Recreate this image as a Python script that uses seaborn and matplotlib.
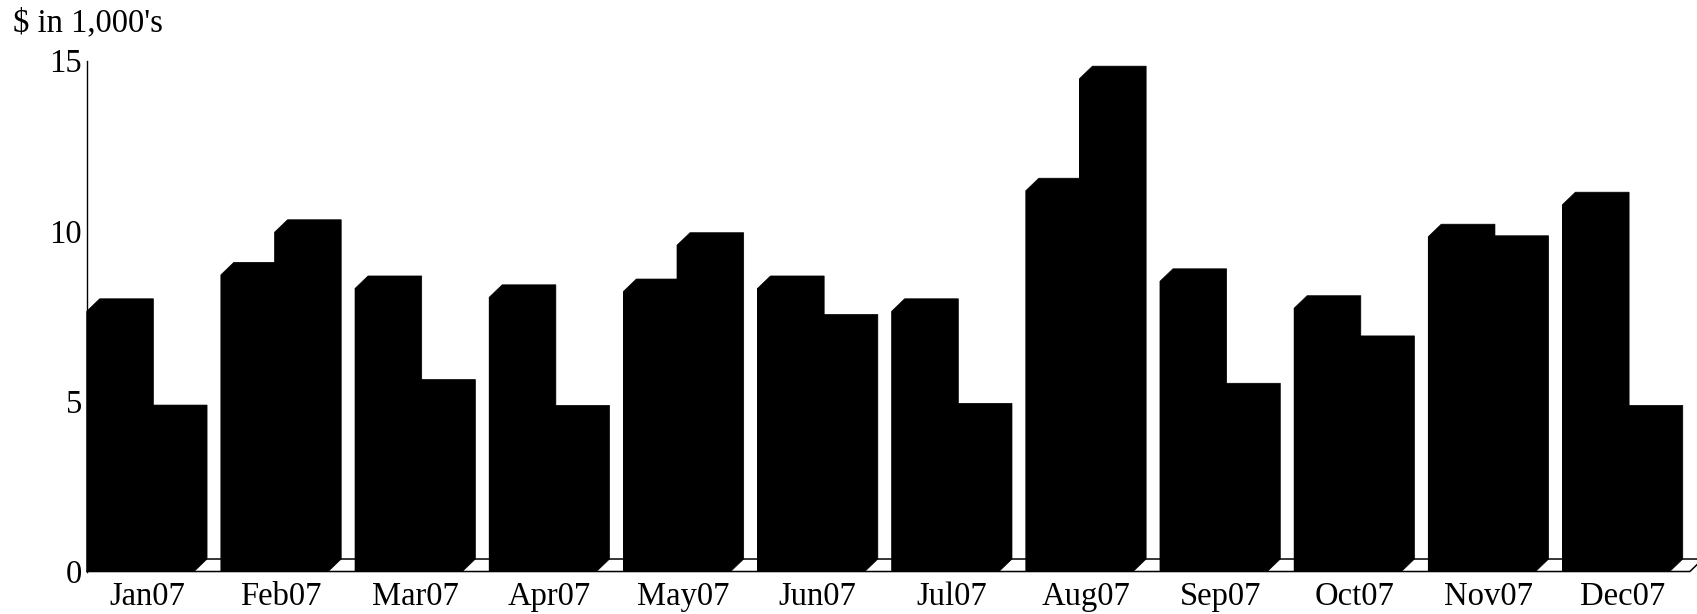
import numpy as np
import pandas as pd
import matplotlib
matplotlib.use("Agg")
import matplotlib.pyplot as plt
import seaborn as sns
from matplotlib.patches import Polygon

# ---- data (values in $1,000's, front-face heights) ----
months = ["Jan07", "Feb07", "Mar07", "Apr07", "May07", "Jun07",
          "Jul07", "Aug07", "Sep07", "Oct07", "Nov07", "Dec07"]
series_a = [7.64, 8.71, 8.31, 8.05, 8.22, 8.31, 7.64, 11.18, 8.52, 7.73, 9.83, 10.77]
series_b = [4.52, 9.96, 5.27, 4.51, 9.58, 7.18, 4.57, 14.47, 5.16, 6.55, 9.49, 4.51]
y_ticks = [0, 5, 10, 15]
y_title = "$ in 1,000's"

# ---- style ----
sns.set_theme(style="white")
plt.rcParams["font.family"] = ["Liberation Serif", "DejaVu Serif"]
FS = 23.5
DX, DY = 0.097, 0.367  # 3-D depth offset in data units

fig = plt.figure(figsize=(16.97, 6.14), dpi=100)
ax = fig.add_axes([0.0511, 0.0692, 0.9958 - 0.0511, 0.9013 - 0.0692])

df = pd.DataFrame({
    "month": months * 2,
    "value": series_a + series_b,
    "series": ["A"] * len(months) + ["B"] * len(months),
})
sns.barplot(data=df, x="month", y="value", hue="series", hue_order=["A", "B"],
            palette=["black", "black"], saturation=1, width=0.8, linewidth=0,
            errorbar=None, legend=False, ax=ax, zorder=2)

xmin, xmax = -0.4, 11.55
ax.set_xlim(xmin, xmax)
ax.set_ylim(0, 15)

# floor of the 3-D plot
floor = Polygon([(xmin, 0), (xmax, 0), (xmax + DX, DY), (xmin + DX, DY)],
                closed=True, facecolor="white", edgecolor="black", lw=1.1,
                zorder=1, clip_on=False)
ax.add_patch(floor)

# extrude each bar into a 3-D silhouette
for p in list(ax.patches):
    if p is floor:
        continue
    x0 = p.get_x()
    w = p.get_width()
    h = p.get_height()
    x1 = x0 + w
    poly = Polygon([(x0, 0), (x0, h), (x0 + DX, h + DY), (x1 + DX, h + DY),
                    (x1 + DX, DY), (x1, 0)], closed=True,
                   facecolor="black", edgecolor="black", lw=0.5, zorder=3,
                   clip_on=False)
    ax.add_patch(poly)

ax.set_xticks(np.arange(len(months)) + DX / 2)
ax.set_xticklabels(months)
ax.set_yticks(y_ticks)
ax.set_xlabel("")
ax.set_ylabel("")
ax.tick_params(axis="x", length=0, pad=7, labelsize=FS, colors="black")
ax.tick_params(axis="y", length=2, width=1, direction="out", pad=1.3,
               labelsize=FS, colors="black")
for s in ["top", "right", "bottom"]:
    ax.spines[s].set_visible(False)
ax.spines["left"].set_color("black")
ax.spines["left"].set_linewidth(1)
ax.grid(False)

fig.text(13 / 1697, 1 - 31 / 614, y_title, fontsize=FS, ha="left",
         va="baseline", color="black")

fig.savefig("out.png", dpi=100, facecolor="white")
